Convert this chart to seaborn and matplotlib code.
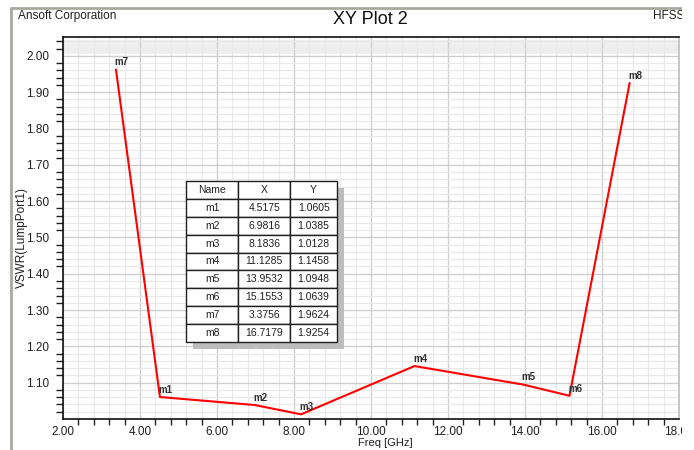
import numpy as np
import pandas as pd
import seaborn as sns
import matplotlib.pyplot as plt
from matplotlib.ticker import MultipleLocator, FormatStrFormatter
from matplotlib.patches import Rectangle
from matplotlib.lines import Line2D

# marker data
names = ["m1", "m2", "m3", "m4", "m5", "m6", "m7", "m8"]
freq = [4.5175, 6.9816, 8.1836, 11.1285, 13.9532, 15.1553, 3.3756, 16.7179]
vswr = [1.0605, 1.0385, 1.0128, 1.1458, 1.0948, 1.0639, 1.9624, 1.9254]

df = pd.DataFrame({"name": names, "freq": freq, "vswr": vswr})
curve = df.sort_values("freq")

sns.set_style("white")
plt.rcParams["font.family"] = ["Liberation Sans", "DejaVu Sans"]

fig = plt.figure(figsize=(6.94, 4.5), dpi=100)
ax = fig.add_axes([63 / 694, 1 - 419 / 450, 616 / 694, 382 / 450])

sns.lineplot(data=curve, x="freq", y="vswr", sort=False, color="#ff0000",
             linewidth=1.5, ax=ax, zorder=3)

for _, r in df.iterrows():
    ax.annotate(r["name"], (r["freq"], r["vswr"]), xytext=(-1, 1.5),
                textcoords="offset points", ha="left", va="bottom",
                fontsize=7, fontweight="bold", color="#303030", zorder=4)

ax.set_xlim(2, 18)
ax.set_ylim(1.0, 2.052)
ax.axhspan(2.006, 2.044, color="#efefef", zorder=0, linewidth=0)
ax.xaxis.set_major_locator(MultipleLocator(2))
ax.xaxis.set_minor_locator(MultipleLocator(0.4))
ax.yaxis.set_major_locator(MultipleLocator(0.1))
ax.yaxis.set_minor_locator(MultipleLocator(0.02))
ax.xaxis.set_major_formatter(FormatStrFormatter("%.2f"))
ax.yaxis.set_major_formatter(lambda v, p: "" if v < 1.05 else f"{v:.2f}")

ax.grid(which="major", color="#cfcfcf", linewidth=1.0)
ax.grid(which="minor", color="#e9e9e9", linewidth=0.9)
ax.set_axisbelow(True)

ax.tick_params(axis="y", which="major", direction="out", length=9, width=1,
               color="#202020", labelsize=8.5, labelcolor="#202020", pad=1)
ax.tick_params(axis="y", which="minor", direction="out", length=5, width=1,
               color="#202020", left=True)
ax.tick_params(axis="x", which="major", direction="out", length=5, width=1,
               color="#202020", labelsize=8.5, labelcolor="#202020", pad=0)
ax.tick_params(axis="x", which="minor", direction="out", length=4, width=1,
               color="#202020", bottom=True)

for side in ["left", "bottom", "top"]:
    ax.spines[side].set_color("#101010")
    ax.spines[side].set_linewidth(1.2)
ax.spines["right"].set_color("#bdbdbd")
ax.spines["right"].set_linewidth(1.2)

ax.set_xlabel("Freq [GHz]", fontsize=8, color="#202020")
ax.xaxis.set_label_coords((385 - 63) / 616, (419 - 438) / 382)
ax.set_ylabel("VSWR(LumpPort1)", fontsize=8.5, color="#202020")
ax.yaxis.set_label_coords((28 - 63) / 616, (419 - 237) / 382)

# marker table with drop shadow
tx0, tx1 = (186 - 63) / 616, (337 - 63) / 616
ty0, ty1 = (419 - 342) / 382, (419 - 181) / 382
sx, sy = 7 / 616, 7 / 382
ax.add_patch(Rectangle((tx0 + sx, ty0 - sy), tx1 - tx0, ty1 - ty0,
                       transform=ax.transAxes, facecolor="#bdbdbd",
                       edgecolor="none", zorder=5))
cells = [[n, f"{x:.4f}", f"{y:.4f}"] for n, x, y in zip(names, freq, vswr)]
tbl = ax.table(cellText=cells, colLabels=["Name", "X", "Y"], cellLoc="center",
               colWidths=[0.345, 0.345, 0.31],
               bbox=[tx0, ty0, tx1 - tx0, ty1 - ty0], zorder=6)
tbl.auto_set_font_size(False)
tbl.set_fontsize(7.5)
for (i, j), c in tbl.get_celld().items():
    c.set_edgecolor("#202020")
    c.set_linewidth(1.0)
    c.set_facecolor("white")
    c.get_text().set_color("#202020")

# header texts and outer frame (the capture ends at x=682)
fig.text(18 / 694, 1 - 16 / 450, "Ansoft Corporation", fontsize=8.5,
         color="#202020", va="center")
fig.text(370 / 694, 1 - 19 / 450, "XY Plot 2", fontsize=13, ha="center",
         va="center", color="#101010")
fig.text(653 / 694, 1 - 16 / 450, "HFSSD", fontsize=8.5,
         color="#202020", va="center")
fig.add_artist(Line2D([11 / 694, 11 / 694], [0, 1 - 8 / 450],
                      transform=fig.transFigure, color="#a8a8a0", linewidth=2))
fig.add_artist(Line2D([11 / 694, 682 / 694], [1 - 8 / 450, 1 - 8 / 450],
                      transform=fig.transFigure, color="#a8a8a0", linewidth=2))
fig.add_artist(Rectangle((682 / 694, 0), 12 / 694, 1, transform=fig.transFigure,
                         facecolor="white", edgecolor="none", zorder=20))

fig.savefig("out.png", dpi=100)
